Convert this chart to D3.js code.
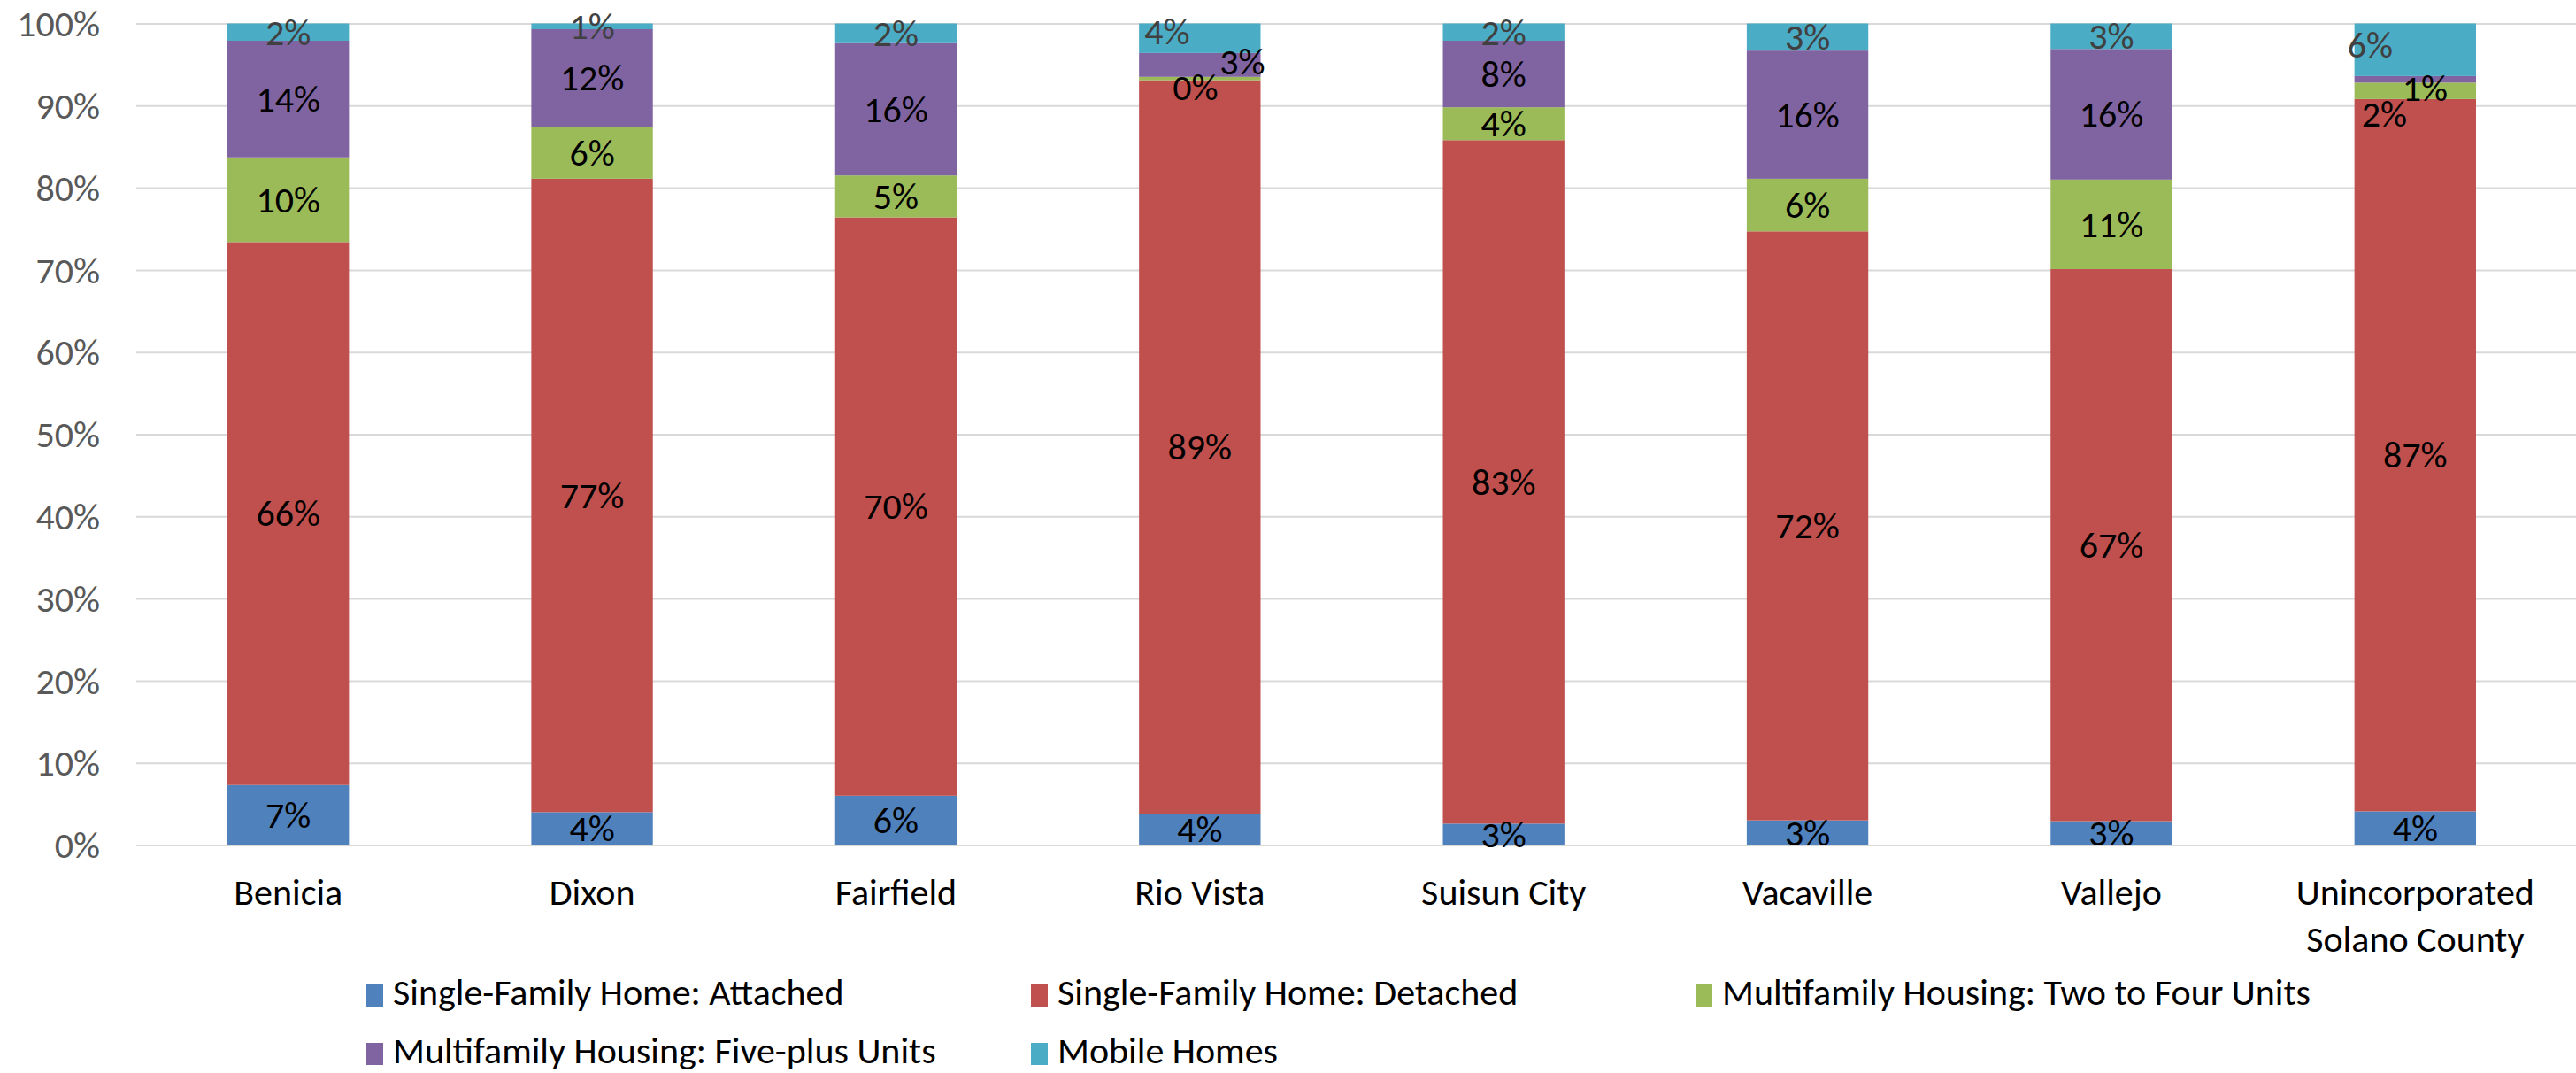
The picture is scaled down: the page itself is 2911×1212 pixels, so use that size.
<!DOCTYPE html>
<html>
<head>
<meta charset="utf-8">
<script src="https://cdn.jsdelivr.net/npm/d3@7"></script>
<style>
  html, body { margin: 0; padding: 0; background: #fff; }
  svg { display: block; }
  text { font-family: Carlito, Calibri, "Liberation Sans", Arial, sans-serif; }
</style>
</head>
<body>
<svg id="chart" width="2911" height="1212"></svg>
<script>
// ---------- data ----------
const categories = ["Benicia", "Dixon", "Fairfield", "Rio Vista", "Suisun City", "Vacaville", "Vallejo", "Unincorporated Solano County"];
const seriesNames = ["Single-Family Home: Attached", "Single-Family Home: Detached", "Multifamily Housing: Two to Four Units", "Multifamily Housing: Five-plus Units", "Mobile Homes"];
const sfAttached   = [7.3, 4.0, 6.0, 3.8, 2.6, 3.0, 2.9, 4.1];
const sfDetached   = [66.1, 77.1, 70.4, 89.3, 83.2, 71.7, 67.2, 86.7];
const mfTwoToFour  = [10.3, 6.3, 5.1, 0.4, 4.0, 6.4, 10.9, 2.0];
const mfFivePlus   = [14.2, 11.9, 16.1, 2.9, 8.1, 15.6, 15.9, 0.8];
const mobileHomes  = [2.1, 0.7, 2.4, 3.6, 2.1, 3.3, 3.1, 6.4];
const yTicks = [0, 10, 20, 30, 40, 50, 60, 70, 80, 90, 100];

// ---------- style ----------
const colors = ["#4F81BD", "#C0504D", "#9BBB59", "#8064A2", "#4BACC6"];
const labelColors = ["#000", "#000", "#000", "#000", "#404040"];
// manual nudges of crowded data labels (pixels)
const labelNudges = [
  {cat: "Rio Vista", s: 4, dx: -37, dy: -7},
  {cat: "Rio Vista", s: 3, dx: 48, dy: -4},
  {cat: "Rio Vista", s: 2, dx: -5, dy: 10},
  {cat: "Unincorporated Solano County", s: 4, dx: -51, dy: -5},
  {cat: "Unincorporated Solano County", s: 3, dx: 11, dy: 10},
  {cat: "Unincorporated Solano County", s: 2, dx: -35, dy: 26}
];

const W = 2911, H = 1212;
const plot = {left: 154, right: 2901, top: 26.5, bottom: 954.5};
const fontSize = 42;

const svg = d3.select("#chart");

const seriesValues = [sfAttached, sfDetached, mfTwoToFour, mfFivePlus, mobileHomes];
const rows = categories.map((c, i) => {
  const r = {category: c};
  seriesNames.forEach((s, j) => r[s] = seriesValues[j][i]);
  return r;
});
const stacked = d3.stack().keys(seriesNames)(rows);

const x = d3.scaleBand().domain(categories).range([plot.left, plot.right]).paddingInner(0.6).paddingOuter(0.3);
const y = d3.scaleLinear().domain([0, 100]).range([plot.bottom, plot.top]);

// gridlines + y axis
const yAxis = d3.axisLeft(y).tickValues(yTicks).tickSize(-(W - plot.left)).tickPadding(41).tickFormat(d => d + "%");
const gy = svg.append("g").attr("transform", `translate(${plot.left},0)`).call(yAxis);
gy.select(".domain").remove();
gy.selectAll(".tick line").attr("stroke", "#d9d9d9").attr("stroke-width", 2);
gy.selectAll(".tick text").attr("fill", "#595959").style("font-size", fontSize + "px").attr("dy", "0.34em");

// bars
const layers = svg.append("g").selectAll("g").data(stacked).join("g").attr("fill", (d, i) => colors[i]);
layers.selectAll("rect").data(d => d.map(p => ({p, cat: p.data.category}))).join("rect")
  .attr("x", d => x(d.cat))
  .attr("width", x.bandwidth())
  .attr("y", d => y(d.p[1]))
  .attr("height", d => y(d.p[0]) - y(d.p[1]));

// data labels
const fmt = d3.format(".0f");
stacked.forEach((layer, si) => {
  svg.append("g").selectAll("text").data(layer).join("text")
    .attr("x", d => {
      const n = labelNudges.find(k => k.cat === d.data.category && k.s === si);
      return x(d.data.category) + x.bandwidth() / 2 + (n ? n.dx : 0);
    })
    .attr("y", d => {
      const n = labelNudges.find(k => k.cat === d.data.category && k.s === si);
      return (y(d[0]) + y(d[1])) / 2 + (n ? n.dy : 0);
    })
    .attr("dy", "0.34em")
    .attr("text-anchor", "middle")
    .attr("fill", labelColors[si])
    .style("font-size", fontSize + "px")
    .text(d => fmt(d[1] - d[0]) + "%");
});

// x axis (category labels)
const xAxis = d3.axisBottom(x).tickSize(0).tickPadding(0);
const gx = svg.append("g").attr("transform", `translate(0,${plot.bottom})`).call(xAxis);
gx.select(".domain").remove();
gx.selectAll(".tick text").attr("fill", "#000").style("font-size", fontSize + "px")
  .attr("y", 67.5).attr("dy", 0)
  .each(function(d) {
    const t = d3.select(this);
    const words = d.split(" ");
    t.text(null);
    let line = [];
    let tspan = t.append("tspan").attr("x", 0).attr("dy", 0);
    const maxW = x.step() - 20;
    words.forEach(w => {
      line.push(w);
      tspan.text(line.join(" "));
      if (tspan.node().getComputedTextLength() > maxW && line.length > 1) {
        line.pop();
        tspan.text(line.join(" "));
        line = [w];
        tspan = t.append("tspan").attr("x", 0).attr("dy", 53).text(w);
      }
    });
  });

// legend
const legendCols = 3, colW = 751, legX = 414, legY = 1112, rowH = 66;
const leg = svg.append("g").selectAll("g").data(seriesNames).join("g")
  .attr("transform", (d, i) => `translate(${legX + (i % legendCols) * colW},${legY + Math.floor(i / legendCols) * rowH})`);
leg.append("rect").attr("width", 19).attr("height", 25).attr("fill", (d, i) => colors[i]);
leg.append("text").attr("x", 30).attr("y", 23).attr("fill", "#000").style("font-size", fontSize + "px").text(d => d);
</script>
</body>
</html>
